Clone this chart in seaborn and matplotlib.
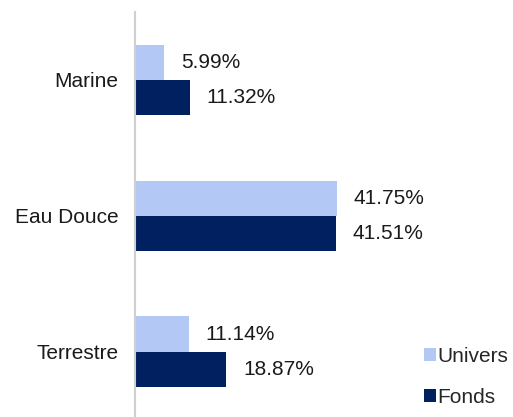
import pandas as pd
import seaborn as sns
import matplotlib.pyplot as plt

categories = ['Marine', 'Eau Douce', 'Terrestre']
univers = [5.99, 41.75, 11.14]
fonds = [11.32, 41.51, 18.87]
series = ['Univers', 'Fonds']

df = pd.DataFrame({
    'cat': categories * 2,
    'val': univers + fonds,
    'serie': [series[0]] * 3 + [series[1]] * 3,
})

sns.set_style('white')
plt.rcParams['font.family'] = ['Liberation Sans', 'DejaVu Sans']

fig = plt.figure(figsize=(5.13, 4.17), dpi=100)
ax = fig.add_axes([135 / 513, 0, 1 - 135 / 513, 1 - 12 / 417])

sns.barplot(data=df, x='val', y='cat', hue='serie', orient='h',
            palette=['#B4C8F6', '#00205F'], width=0.52, saturation=1,
            linewidth=0, ax=ax)

for cont in ax.containers:
    ax.bar_label(cont, labels=[f'{v:.2f}%' for v in cont.datavalues],
                 padding=12, fontsize=15, color='#1a1a1a')

ax.set_xlim(0, 78)
ax.set_ylim(2.48, -0.5)
ax.set_xlabel('')
ax.set_ylabel('')
ax.set_xticks([])
ax.tick_params(axis='y', labelsize=15, length=0, pad=12, labelcolor='#1a1a1a')
for s in ['top', 'right', 'bottom']:
    ax.spines[s].set_visible(False)
ax.spines['left'].set_color('#D0D0D0')
ax.spines['left'].set_linewidth(1.5)

ax.legend(loc='lower left', bbox_to_anchor=(420 / 513, 6 / 417),
          bbox_transform=fig.transFigure, frameon=False, fontsize=15,
          handlelength=0.55, handleheight=0.55, handletextpad=0.1,
          labelspacing=1.05, borderaxespad=0, borderpad=0.2)

fig.savefig('out.png', dpi=100)
